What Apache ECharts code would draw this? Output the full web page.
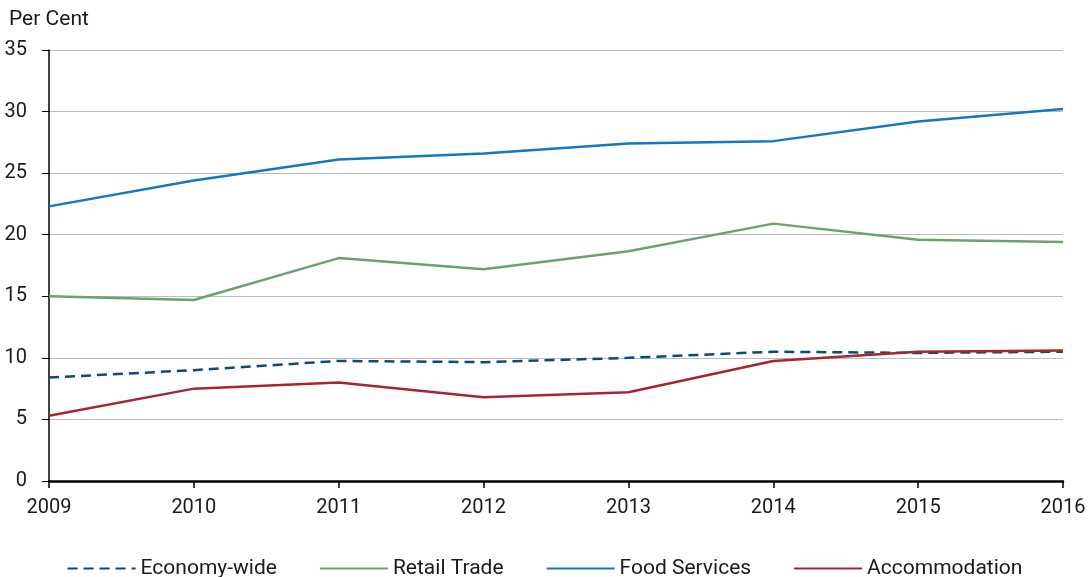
<!DOCTYPE html>
<html>
<head>
<meta charset="utf-8">
<script src="https://cdn.jsdelivr.net/npm/echarts@6/dist/echarts.min.js"></script>
<style>
  html, body { margin: 0; padding: 0; background: #fff; }
  #chart { width: 1089px; height: 577px; }
</style>
</head>
<body>
<div id="chart"></div>
<script>
// years on the x axis
const years = ['2009', '2010', '2011', '2012', '2013', '2014', '2015', '2016'];

// per cent values
const economyWide = [8.4, 9.0, 9.75, 9.65, 10.0, 10.5, 10.4, 10.5];
const retailTrade = [15.0, 14.7, 18.1, 17.2, 18.65, 20.9, 19.6, 19.4];
const foodServices = [22.3, 24.4, 26.1, 26.6, 27.4, 27.6, 29.2, 30.2];
const accommodation = [5.3, 7.5, 8.0, 6.8, 7.2, 9.75, 10.5, 10.6];

const font = 'Roboto, "DejaVu Sans", sans-serif';

const chart = echarts.init(document.getElementById('chart'));

function lineSeries(name, data, color, type) {
  return {
    name: name,
    type: 'line',
    data: data,
    symbol: 'none',
    smooth: false,
    itemStyle: { color: color },
    lineStyle: { color: color, width: 2.5, type: type || 'solid' },
    emphasis: { disabled: true }
  };
}

chart.setOption({
  animation: false,
  textStyle: { fontFamily: font },
  grid: { left: 49, right: 26, top: 50, bottom: 96 },
  legend: {
    top: 553,
    left: 'center',
    itemWidth: 68,
    itemHeight: 22,
    itemGap: 42,
    itemTextGap: 8,
    itemStyle: { opacity: 0 },
    textStyle: { fontFamily: font, fontSize: 21, color: '#1a1a1a' },
    data: ['Economy-wide', 'Retail Trade', 'Food Services', 'Accommodation']
  },
  xAxis: {
    type: 'category',
    data: years,
    boundaryGap: false,
    axisLine: { lineStyle: { color: '#000', width: 2.5 } },
    axisTick: { show: true, length: 7, lineStyle: { color: '#000', width: 1.5 } },
    axisLabel: { color: '#1a1a1a', fontSize: 20, margin: 17, fontFamily: font, showMinLabel: true, showMaxLabel: true },
    splitLine: { show: false }
  },
  yAxis: {
    type: 'value',
    name: 'Per Cent',
    nameLocation: 'end',
    nameGap: 20,
    nameTextStyle: { color: '#1a1a1a', fontSize: 21, fontFamily: font, align: 'left', padding: [0, 0, 0, -40] },
    min: 0,
    max: 35,
    interval: 5,
    axisLine: { show: true, lineStyle: { color: '#000', width: 1.5 } },
    axisTick: { show: true, length: 7, lineStyle: { color: '#000', width: 1 } },
    axisLabel: { color: '#1a1a1a', fontSize: 20, margin: 22, fontFamily: font },
    splitLine: { lineStyle: { color: '#bdbdbd', width: 1.2 } }
  },
  series: [
    lineSeries('Economy-wide', economyWide, '#0d4a77', [10, 6]),
    lineSeries('Retail Trade', retailTrade, '#6aa46c'),
    lineSeries('Food Services', foodServices, '#1676bf'),
    lineSeries('Accommodation', accommodation, '#a3282c')
  ]
});
</script>
</body>
</html>
